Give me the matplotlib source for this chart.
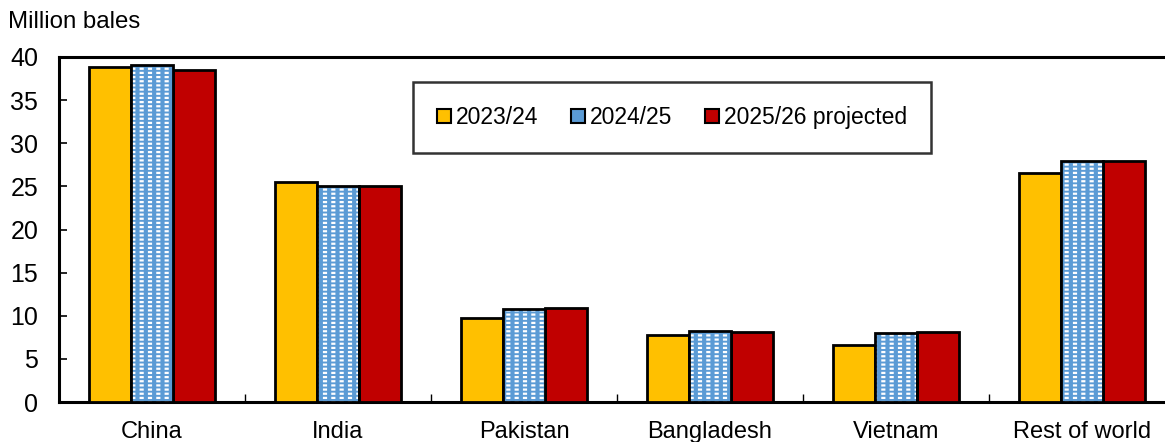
import matplotlib
matplotlib.use("Agg")
import matplotlib.pyplot as plt
from matplotlib.patches import Patch
import numpy as np

plt.rcParams['font.family'] = ['Liberation Sans', 'DejaVu Sans']
plt.rcParams['hatch.linewidth'] = 1.6

# datos
regions = ['China', 'India', 'Pakistan', 'Bangladesh', 'Vietnam', 'Rest of world']
y2324 = [38.8, 25.5, 9.7, 7.8, 6.6, 26.5]
y2425 = [39.1, 25.0, 10.8, 8.2, 8.0, 28.0]
y2526 = [38.5, 25.0, 10.9, 8.1, 8.1, 28.0]
series_names = ['2023/24', '2024/25', '2025/26 projected']

yellow = '#FFC000'
blue = '#5B9BD5'
red = '#C00000'

fig = plt.figure(figsize=(11.65, 4.42), dpi=100)
ax = fig.add_axes([59/1165, 1-402/442, (1175-59)/1165, (402-57)/442])

x = np.arange(len(regions))
w = 0.225

ax.bar(x - w, y2324, w, color=yellow, edgecolor='black', linewidth=2, zorder=3)
# barra con trama: lineas blancas cortadas por lineas azules -> guiones
ax.bar(x, y2425, w, color=blue, edgecolor='white', hatch='----', linewidth=0, zorder=3)
breaks = ax.bar(x, y2425, w, fill=False, edgecolor=blue, hatch='||', linewidth=0, zorder=3.5)
for b in breaks:
    if hasattr(b, 'set_hatch_linewidth'):
        b.set_hatch_linewidth(3.0)
ax.bar(x, y2425, w, fill=False, edgecolor='black', linewidth=2, zorder=4)
ax.bar(x + w, y2526, w, color=red, edgecolor='black', linewidth=2, zorder=3)

ax.set_xlim(-0.5, len(regions) - 0.5)
ax.set_ylim(0, 40)
ax.set_yticks(range(0, 41, 5))
ax.set_xticks(x)
ax.set_xticklabels(regions)
ax.set_xticks(np.arange(0.5, len(regions) - 0.5, 1), minor=True)
ax.tick_params(axis='x', which='major', length=0, labelsize=17, pad=14)
ax.tick_params(axis='x', which='minor', direction='in', length=6, width=1)
ax.tick_params(axis='y', direction='in', length=6, width=1.2, labelsize=18, pad=15)

for side in ['left', 'top', 'bottom']:
    ax.spines[side].set_linewidth(2.2)
ax.spines['right'].set_visible(False)

fig.text(8/1165, 1-22/442, 'Million bales', fontsize=17.3, va='center', ha='left')

handles = [
    Patch(facecolor=yellow, edgecolor='black', linewidth=1.5),
    Patch(facecolor=blue, edgecolor='black', linewidth=1.5),
    Patch(facecolor=red, edgecolor='black', linewidth=1.5),
]
leg = fig.legend(handles, series_names, loc='center',
                 bbox_to_anchor=((412+932)/2/1165, 1-117.5/442),
                 ncol=3, fontsize=16.5, frameon=True, fancybox=False,
                 handlelength=0.6, handleheight=0.6, handletextpad=0.2,
                 columnspacing=1.45, borderpad=1.05)
leg.get_frame().set_edgecolor('black')
leg.get_frame().set_linewidth(1.8)

fig.savefig('out.png', dpi=100)
